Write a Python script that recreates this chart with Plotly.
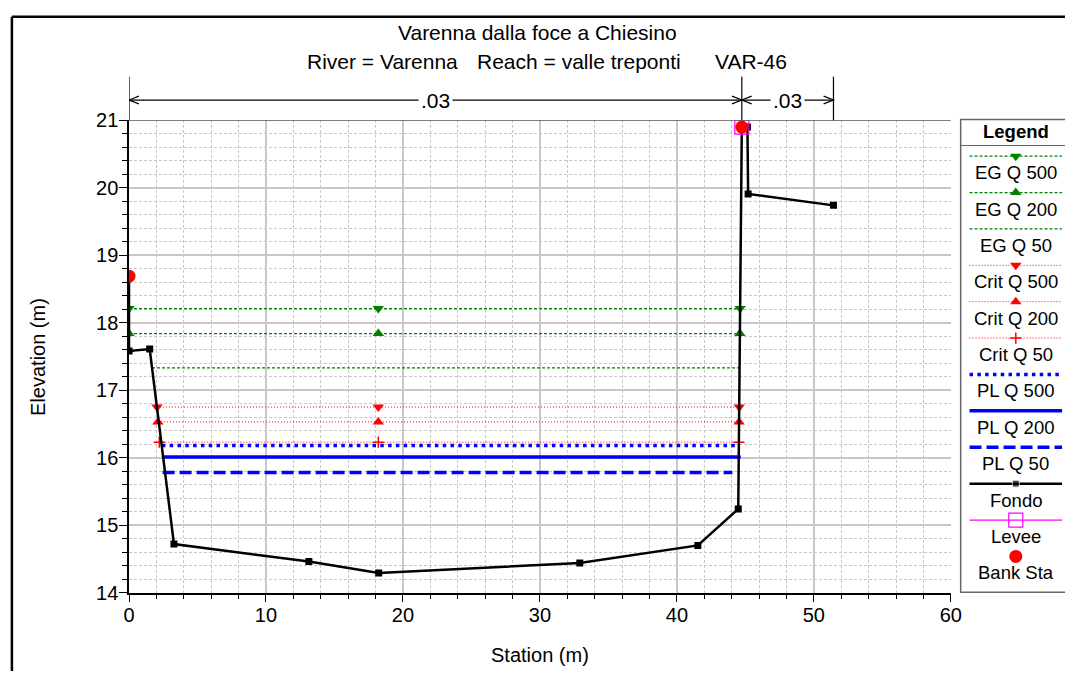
import plotly.graph_objects as go

W, H = 1076, 682

# ---------------- data ----------------
fondo_sta = [0.0, 0.0, 1.51, 3.28, 13.13, 18.23, 32.91, 41.53, 44.48, 44.74, 45.15, 45.20, 51.43]
fondo_elev = [18.69, 17.58, 17.61, 14.72, 14.46, 14.29, 14.44, 14.70, 15.24, 20.90, 20.90, 19.91, 19.74]

bank_sta = [0.0, 44.74]
bank_elev = [18.69, 20.90]

levee_sta = [44.74]
levee_elev = [20.90]

ws_names = ["EG Q 500", "EG Q 200", "EG Q 50", "Crit Q 500", "Crit Q 200",
            "Crit Q 50", "PL Q 500", "PL Q 200", "PL Q 50"]
ws_elev = [18.21, 17.84, 17.33, 16.75, 16.53, 16.23, 16.18, 16.01, 15.78]
ws_left = [0.0, 0.0, 1.68, 2.04, 2.11, 2.21, 2.40, 2.40, 2.45]
ws_right = [44.62, 44.60, 44.56, 44.55, 44.54, 44.53, 44.55, 44.66, 44.05]
ws_mid_marker = 18.2

n_values = [".03", ".03"]
n_breaks = [0.0, 44.74, 51.43]

x_ticks = [0, 10, 20, 30, 40, 50, 60]
y_ticks = [14, 15, 16, 17, 18, 19, 20, 21]

title_line1 = "Varenna dalla foce a Chiesino"
title_river = "River = Varenna"
title_reach = "Reach = valle treponti"
title_xs = "VAR-46"

# ---------------- styles ----------------
FONT = "Liberation Sans, Arial, sans-serif"
GREEN, RED, BLUE = "#008000", "#ff0000", "#0000ff"
ws_style = [
    dict(color=GREEN, width=1.2, dash="3px,2px", symbol="triangle-down"),
    dict(color=GREEN, width=1.2, dash="3px,2px", symbol="triangle-up"),
    dict(color=GREEN, width=1.2, dash="3px,2px", symbol=None),
    dict(color=RED, width=1.0, dash="1px,2px", symbol="triangle-down"),
    dict(color=RED, width=1.0, dash="1px,2px", symbol="triangle-up"),
    dict(color=RED, width=1.0, dash="1px,2px", symbol="cross-thin"),
    dict(color=BLUE, width=3.5, dash="3.5px,4.3px", symbol=None),
    dict(color=BLUE, width=3.5, dash="solid", symbol=None),
    dict(color=BLUE, width=3.5, dash="12px,5px", symbol=None),
]

# plot area in pixels
PX_L, PX_R, PX_T, PX_B = 125, 960, 113, 601
X_RANGE = [0, 60]
Y_RANGE = [14, 21]
px_per_unit = (PX_R - PX_L) / (X_RANGE[1] - X_RANGE[0])

fig = go.Figure()

def marker_for(st, size=10):
    if st["symbol"] == "cross-thin":
        return dict(symbol="cross-thin", size=8, color=st["color"],
                    line=dict(color=st["color"], width=1.5))
    return dict(symbol=st["symbol"], size=size, color=st["color"], line=dict(width=0))

# water surfaces
for i, name in enumerate(ws_names):
    st = ws_style[i]
    fig.add_trace(go.Scatter(
        x=[ws_left[i], ws_right[i]], y=[ws_elev[i], ws_elev[i]], mode="lines",
        line=dict(color=st["color"], width=st["width"], dash=st["dash"]),
        showlegend=False, hoverinfo="skip", xaxis="x", yaxis="y"))
    if st["symbol"]:
        fig.add_trace(go.Scatter(
            x=[ws_left[i], ws_mid_marker, ws_right[i]], y=[ws_elev[i]] * 3,
            mode="markers", marker=marker_for(st),
            showlegend=False, hoverinfo="skip", xaxis="x", yaxis="y"))

# ground
fig.add_trace(go.Scatter(
    x=fondo_sta, y=fondo_elev, mode="lines+markers",
    line=dict(color="black", width=2.5),
    marker=dict(symbol="square", size=7, color="black"),
    showlegend=False, hoverinfo="skip", xaxis="x", yaxis="y"))
# levee
fig.add_trace(go.Scatter(
    x=levee_sta, y=levee_elev, mode="markers",
    marker=dict(symbol="square-open", size=14, color="#ff00ff", line=dict(width=1.2)),
    showlegend=False, hoverinfo="skip", xaxis="x", yaxis="y"))
# bank stations
fig.add_trace(go.Scatter(
    x=bank_sta, y=bank_elev, mode="markers",
    marker=dict(symbol="circle", size=13, color=RED),
    showlegend=False, hoverinfo="skip", xaxis="x", yaxis="y"))

# ---------------- custom legend (pixel overlay axes x2/y2) ----------------
LEG_L, LEG_T, LEG_B = 970, 112, 600.5
leg_x0, leg_x1, leg_xm = 979, 1073, 1026
leg_y0, leg_dy = 150, 37.6
legend_names = ws_names + ["Fondo", "Levee", "Bank Sta"]
annotations = []
shapes = []
LFONT = dict(family=FONT, size=18.5, color="black")
for i, name in enumerate(legend_names):
    ly = leg_y0 + leg_dy * i
    if i < len(ws_names):
        st = ws_style[i]
        fig.add_trace(go.Scatter(
            x=[leg_x0, leg_x1], y=[ly, ly], mode="lines",
            line=dict(color=st["color"], width=st["width"], dash=st["dash"]),
            showlegend=False, hoverinfo="skip", xaxis="x2", yaxis="y2"))
        if st["symbol"]:
            fig.add_trace(go.Scatter(
                x=[leg_xm], y=[ly], mode="markers", marker=marker_for(st),
                showlegend=False, hoverinfo="skip", xaxis="x2", yaxis="y2"))
    elif name == "Fondo":
        fig.add_trace(go.Scatter(
            x=[leg_x0, leg_xm, leg_x1], y=[ly] * 3, mode="lines+markers",
            line=dict(color="black", width=2.5),
            marker=dict(symbol="square", size=[0, 7, 0], color="black"),
            showlegend=False, hoverinfo="skip", xaxis="x2", yaxis="y2"))
    elif name == "Levee":
        fig.add_trace(go.Scatter(
            x=[leg_x0, leg_x1], y=[ly, ly], mode="lines",
            line=dict(color="#ff00ff", width=1.2),
            showlegend=False, hoverinfo="skip", xaxis="x2", yaxis="y2"))
        fig.add_trace(go.Scatter(
            x=[leg_xm], y=[ly], mode="markers",
            marker=dict(symbol="square-open", size=14, color="#ff00ff", line=dict(width=1.2)),
            showlegend=False, hoverinfo="skip", xaxis="x2", yaxis="y2"))
    else:
        fig.add_trace(go.Scatter(
            x=[leg_xm], y=[ly], mode="markers",
            marker=dict(symbol="circle", size=13, color=RED),
            showlegend=False, hoverinfo="skip", xaxis="x2", yaxis="y2"))
    annotations.append(dict(x=leg_xm, y=ly + 17, xref="x2", yref="y2", text=name,
                            showarrow=False, font=LFONT,
                            xanchor="center", yanchor="middle"))

annotations.append(dict(x=leg_xm, y=124, xref="x2", yref="y2", text="<b>Legend</b>",
                        showarrow=False, font=LFONT,
                        xanchor="center", yanchor="middle"))
# legend box: left, top, bottom edges (right edge is outside the picture)
shapes.append(dict(type="path", xref="x2", yref="y2",
                   path=f"M {W},{LEG_T} L {LEG_L},{LEG_T} L {LEG_L},{LEG_B} L {W},{LEG_B}",
                   line=dict(color="#666666", width=1.5), layer="below"))
shapes.append(dict(type="line", xref="x2", yref="y2", x0=LEG_L, x1=W, y0=139, y1=139,
                   line=dict(color="#666666", width=1.2)))

# ---------------- outer frame ----------------
shapes.append(dict(type="line", xref="x2", yref="y2", x0=6, x1=W, y0=6, y1=6,
                   line=dict(color="black", width=2.5)))
shapes.append(dict(type="line", xref="x2", yref="y2", x0=6, x1=6, y0=6, y1=H,
                   line=dict(color="black", width=2.5)))

# top border of plot area
shapes.append(dict(type="line", xref="x", yref="y", x0=X_RANGE[0], x1=X_RANGE[1],
                   y0=Y_RANGE[1], y1=Y_RANGE[1], line=dict(color="#555555", width=1.5)))

# ---------------- Manning's n dimension lines ----------------
DIM_Y, DIM_TOP = 92, 68
d = 10 / px_per_unit
for xb in n_breaks:
    shapes.append(dict(type="line", xref="x", yref="y2", x0=xb, x1=xb, y0=DIM_TOP, y1=PX_T,
                       line=dict(color="black", width=1.2)))
for k in range(len(n_values)):
    a, b = n_breaks[k], n_breaks[k + 1]
    shapes.append(dict(type="line", xref="x", yref="y2", x0=a, x1=b, y0=DIM_Y, y1=DIM_Y,
                       line=dict(color="black", width=1.2)))
    shapes.append(dict(type="path", xref="x", yref="y2",
                       path=f"M {a + d},{DIM_Y - 4} L {a},{DIM_Y} L {a + d},{DIM_Y + 4}",
                       line=dict(color="black", width=1.2)))
    shapes.append(dict(type="path", xref="x", yref="y2",
                       path=f"M {b - d},{DIM_Y - 4} L {b},{DIM_Y} L {b - d},{DIM_Y + 4}",
                       line=dict(color="black", width=1.2)))
    annotations.append(dict(x=(a + b) / 2, y=DIM_Y, xref="x", yref="y2", text=n_values[k],
                            showarrow=False, bgcolor="white", borderpad=2,
                            font=dict(family=FONT, size=21, color="black"),
                            xanchor="center", yanchor="middle"))

# ---------------- titles ----------------
tfont = dict(family=FONT, size=21, color="black")
afont = dict(family=FONT, size=20, color="black")
annotations += [
    dict(x=540, y=22, xref="x2", yref="y2", text=title_line1, showarrow=False, font=tfont),
    dict(x=383, y=52, xref="x2", yref="y2", text=title_river, showarrow=False, font=tfont),
    dict(x=582, y=52, xref="x2", yref="y2", text=title_reach, showarrow=False, font=tfont),
    dict(x=757, y=52, xref="x2", yref="y2", text=title_xs, showarrow=False, font=tfont),
    dict(x=543, y=665, xref="x2", yref="y2", text="Station (m)", showarrow=False, font=afont),
    dict(x=33, y=357, xref="x2", yref="y2", text="Elevation (m)", showarrow=False,
         font=afont, textangle=-90),
]

GRID = "#c8c8c8"
tickfont = dict(family=FONT, size=20, color="black")
fig.update_layout(
    width=W, height=H,
    margin=dict(l=0, r=0, t=0, b=0),
    paper_bgcolor="white", plot_bgcolor="rgba(0,0,0,0)",
    showlegend=False,
    xaxis=dict(domain=[PX_L / W, PX_R / W], range=X_RANGE, tickvals=x_ticks,
               showline=True, linecolor="black", linewidth=1.5,
               ticks="outside", ticklen=8, tickwidth=1.2, tickcolor="black",
               ticklabelstandoff=-4,
               showgrid=True, gridcolor=GRID, gridwidth=1.5, zeroline=False,
               minor=dict(dtick=2, ticks="outside", ticklen=5, tickcolor="black",
                          showgrid=True, gridcolor=GRID, griddash="3px,2px", gridwidth=1),
               tickfont=tickfont, anchor="y", fixedrange=True),
    yaxis=dict(domain=[1 - PX_B / H, 1 - PX_T / H], range=Y_RANGE, tickvals=y_ticks,
               showline=True, linecolor="black", linewidth=1.5,
               ticks="outside", ticklen=8, tickwidth=1.2, tickcolor="black",
               ticklabelstandoff=-3,
               showgrid=True, gridcolor=GRID, gridwidth=1.5, zeroline=False,
               minor=dict(dtick=0.2, ticks="outside", ticklen=5, tickcolor="black",
                          showgrid=True, gridcolor=GRID, griddash="3px,2px", gridwidth=1),
               tickfont=tickfont, anchor="x", fixedrange=True),
    xaxis2=dict(domain=[0, 1], range=[0, W], visible=False, anchor="y2", fixedrange=True),
    yaxis2=dict(domain=[0, 1], range=[H, 0], visible=False, anchor="x2", fixedrange=True),
    shapes=shapes,
    annotations=annotations,
)

fig.write_html(
    "out.html",
    config={"displayModeBar": False},
    post_script="document.body.style.margin='0';document.body.style.overflow='hidden';"
                "document.documentElement.style.overflow='hidden';",
)
